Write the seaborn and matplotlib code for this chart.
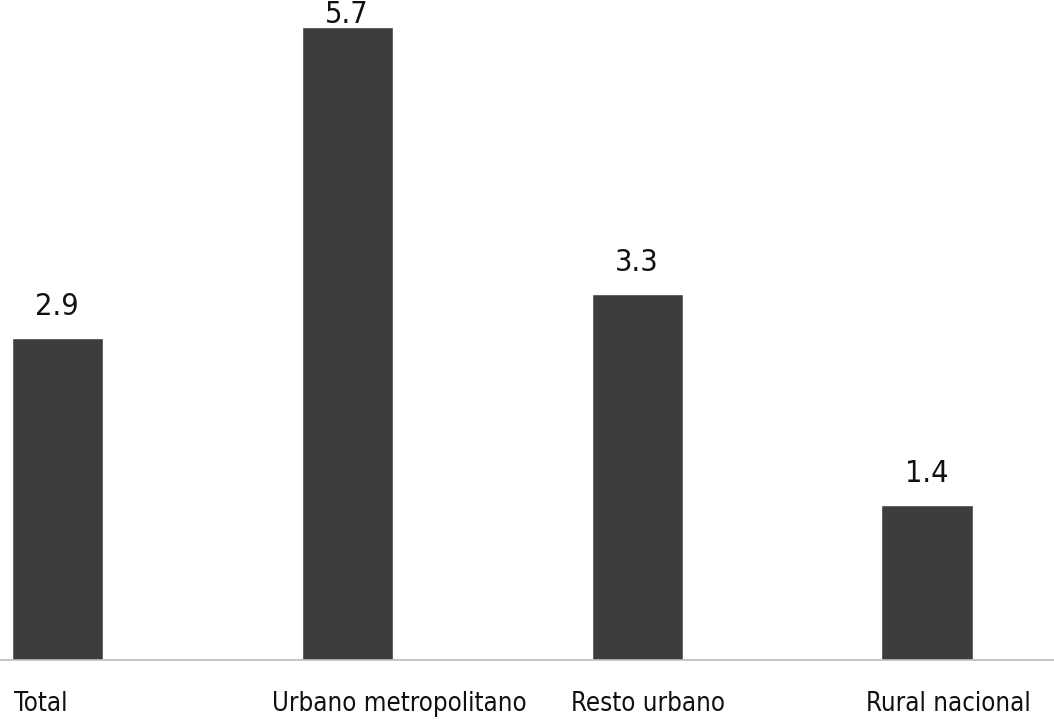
import numpy as np
import pandas as pd
import matplotlib.pyplot as plt
import matplotlib.transforms as mtransforms
import seaborn as sns

sns.set_style("white")
plt.rcParams['font.family'] = ['DejaVu Sans']
plt.rcParams['font.stretch'] = 'condensed'

categorias = ["Total", "Urbano metropolitano", "Resto urbano", "Rural nacional"]
valores = [2.9, 5.7, 3.3, 1.4]

df = pd.DataFrame({"cat": categorias, "val": valores})

fig = plt.figure(figsize=(10.54, 7.23), dpi=100)
ax = fig.add_axes([0, 63 / 723, 1, 655 / 723])

sns.barplot(data=df, x="cat", y="val", color="#3d3d3d", saturation=1,
            width=0.314, ax=ax)

ytop = 5.9
ax.set_xlim(-0.197, 3.438)
ax.set_ylim(0, ytop)

# etiquetas de valor sobre cada barra
for i, v in enumerate(valores):
    yl = min(v + 0.28, ytop - 0.09)
    ax.text(i, yl, f"{v:.1f}", ha="center", va="center", fontsize=22,
            color="#111111")

ax.set_xlabel("")
ax.set_ylabel("")
ax.set_yticks([])
ax.tick_params(axis="x", length=0, pad=22, labelsize=18.5, labelcolor="#111111")

# pequeños desplazamientos horizontales de las etiquetas (px)
desp = [-16, 52, 11, 21]
for lab, dx in zip(ax.get_xticklabels(), desp):
    lab.set_transform(lab.get_transform() +
                      mtransforms.ScaledTranslation(dx / 100, 0, fig.dpi_scale_trans))

for s in ["top", "right", "left"]:
    ax.spines[s].set_visible(False)
ax.spines["bottom"].set_color("#bbbbbb")
ax.spines["bottom"].set_linewidth(1.2)

fig.savefig("out.png", dpi=100)
